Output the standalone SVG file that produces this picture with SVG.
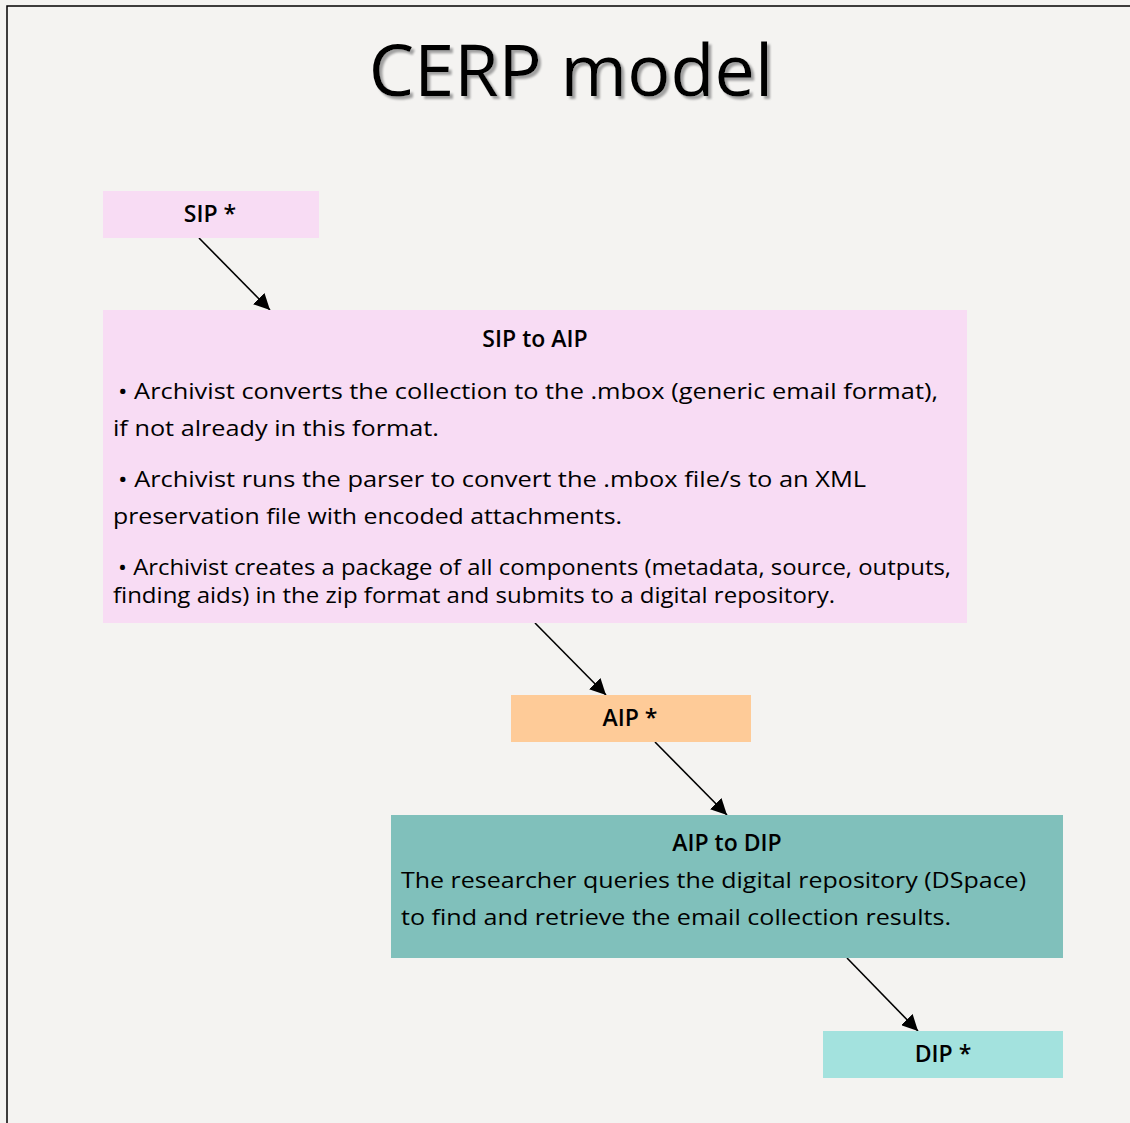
<svg xmlns="http://www.w3.org/2000/svg" width="1130" height="1123" viewBox="0 0 1130 1123">
<defs>
<marker id="ah" viewBox="0 0 10 10" refX="10" refY="5" markerWidth="16" markerHeight="16" markerUnits="userSpaceOnUse" orient="auto"><path d="M0,0 L10,5 L0,10 z" fill="#000"/></marker>
<filter id="sh" x="-5%" y="-20%" width="115%" height="150%"><feDropShadow dx="3" dy="3" stdDeviation="0.8" flood-color="#a0a0a0" flood-opacity="1"/></filter>
<style>
.t{font-family:"Open Sans","DejaVu Sans",sans-serif;fill:#000}
.h{font-size:23px;font-weight:600;text-anchor:middle}
.b{font-size:22px}
.c{stroke:#000;stroke-width:1.6;fill:none;marker-end:url(#ah)}
</style>
</defs>
<rect x="0" y="0" width="1130" height="1123" fill="#f4f3f1"/>
<path d="M7,1123 V6 H1130" stroke="#000" stroke-width="1.5" fill="none"/>
<g id="title">
<text x="571" y="96" class="t" font-size="72" text-anchor="middle" filter="url(#sh)">CERP model</text>
</g>
<g id="connectors">
<line class="c" x1="199" y1="238" x2="270" y2="310"/>
<line class="c" x1="535" y1="623" x2="606" y2="695"/>
<line class="c" x1="655" y1="742" x2="727" y2="815"/>
<line class="c" x1="847" y1="958" x2="918" y2="1031"/>
</g>
<g id="sip">
<rect x="103" y="191" width="216" height="47" fill="#f8dcf4"/>
<text x="210" y="222" class="t h" font-weight="700">SIP *</text>
</g>
<g id="sip-to-aip">
<rect x="103" y="310" width="864" height="313" fill="#f8dcf4"/>
<text x="535" y="347" class="t h">SIP to AIP</text>
<text x="118" y="399" class="t b" textLength="820" lengthAdjust="spacingAndGlyphs">• Archivist converts the collection to the .mbox (generic email format),</text>
<text x="113" y="436" class="t b" textLength="326" lengthAdjust="spacingAndGlyphs">if not already in this format.</text>
<text x="118" y="487" class="t b" textLength="748" lengthAdjust="spacingAndGlyphs">• Archivist runs the parser to convert the .mbox file/s to an XML</text>
<text x="113" y="524" class="t b" textLength="509" lengthAdjust="spacingAndGlyphs">preservation file with encoded attachments.</text>
<text x="118" y="575" class="t b" textLength="833" lengthAdjust="spacingAndGlyphs">• Archivist creates a package of all components (metadata, source, outputs,</text>
<text x="113" y="603" class="t b" textLength="722" lengthAdjust="spacingAndGlyphs">finding aids) in the zip format and submits to a digital repository.</text>
</g>
<g id="aip">
<rect x="511" y="695" width="240" height="47" fill="#fecb98"/>
<text x="630" y="726" class="t h" font-weight="700">AIP *</text>
</g>
<g id="aip-to-dip">
<rect x="391" y="815" width="672" height="143" fill="#80c0bb"/>
<text x="727" y="851" class="t h">AIP to DIP</text>
<text x="401" y="888" class="t b" textLength="625" lengthAdjust="spacingAndGlyphs">The researcher queries the digital repository (DSpace)</text>
<text x="401" y="925" class="t b" textLength="550" lengthAdjust="spacingAndGlyphs">to find and retrieve the email collection results.</text>
</g>
<g id="dip">
<rect x="823" y="1031" width="240" height="47" fill="#a3e2de"/>
<text x="943" y="1062" class="t h" font-weight="700">DIP *</text>
</g>
</svg>
